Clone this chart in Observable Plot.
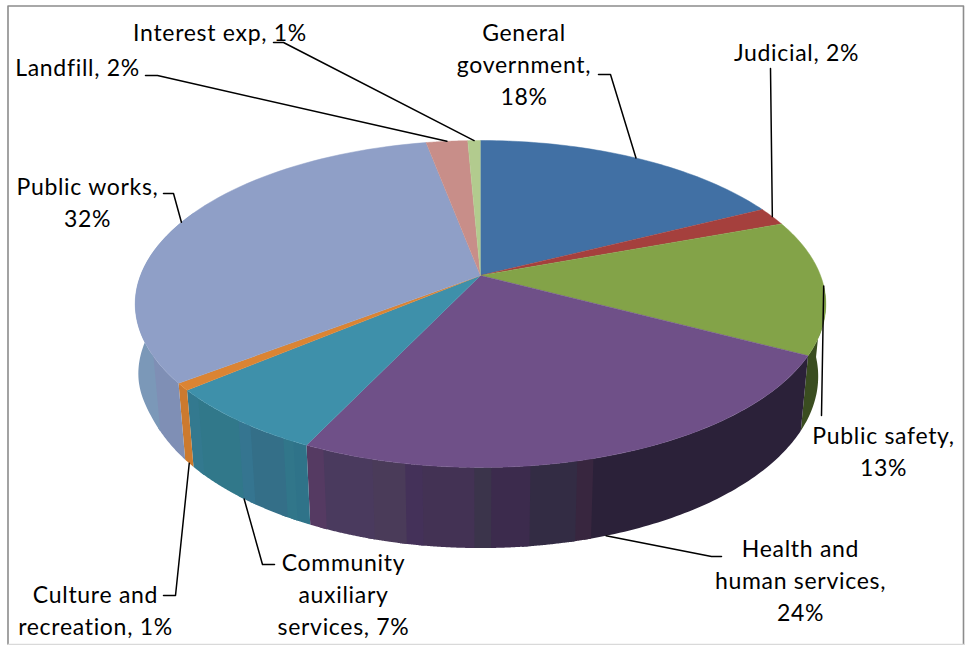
<!DOCTYPE html>
<html>
<head>
<meta charset="utf-8">
<style>html,body{margin:0;padding:0;background:#fff}svg{display:block}</style>
<script src="https://cdn.jsdelivr.net/npm/d3@7"></script>
<script src="https://cdn.jsdelivr.net/npm/@observablehq/plot@0.6"></script>
</head>
<body>
<div id="chart"></div>
<script>
const categories = ["General government","Judicial","Public safety","Health and human services","Community auxiliary services","Culture and recreation","Public works","Landfill","Interest exp"];
const shares = [17.6,1.8,13.3,24.4,6.8,0.7,32.4,2.3,0.7];
const topColors = ["#4170a4","#a5403d","#83a348","#6f5088","#3e90aa","#db8433","#8f9fc7","#c88e89","#b2cb8e"];

// wall shading, per slice: the picture x where a band ends (null: end of slice), and its colour
const wallShade = {
  "Public safety": [[null,"#3a4d20"]],
  "Health and human services": [[593,"#2b2139"],[577,"#38263f"],[530,"#332c44"],[491,"#3c2b4d"],[474,"#3b344b"],[422,"#433254"],[405,"#443159"],[372,"#4a3b59"],[323,"#4a3a5e"],[null,"#553a62"]],
  "Community auxiliary services": [[293,"#2f7389"],[283,"#31768a"],[250,"#346f88"],[238,"#357590"],[198,"#31788a"],[null,"#33798f"]],
  "Culture and recreation": [[null,"#cc7a2e"]],
  "Public works": [[153,"#7f8fb5"],[null,"#7b98b8"]]
};

const labelLines = [
  ["Interest exp, 1%"],["Landfill, 2%"],["Public works,","32%"],["General","government,","18%"],["Judicial, 2%"],
  ["Public safety,","13%"],["Health and","human services,","24%"],["Community","auxiliary","services, 7%"],["Culture and","recreation, 1%"]
];

// layout
const labelOf = ["Interest exp","Landfill","Public works","General government","Judicial","Public safety","Health and human services","Community auxiliary services","Culture and recreation"];
const labelCx = [219.5,77,87,523.5,796,883,800,343,95];
const labelCy = [33,68,187,33,53,436,549,563,595];
const lineGap = 32.2;
const legs = {
  "Interest exp":[[283,42],[273,42]],
  "Landfill":[[157,75],[145,75]],
  "Public works":[[173,193],[163,193]],
  "General government":[[610,74],[598,74]],
  "Judicial":[[770,68]],
  "Public safety":[[821,415]],
  "Health and human services":[[711,556],[721,556]],
  "Community auxiliary services":[[262,564],[274,564]],
  "Culture and recreation":[[175,595],[163,595]]
};
const onWall = new Set(["Health and human services","Community auxiliary services","Culture and recreation"]);

// perspective disc
const k = 0.1743, cx = 480, cyTop = 275, ax = 340, ay = 158.5, cyBot = 346, sy = 1.05;
// the lower rim is a touch wider toward the left of the picture
const sxAt = pct => 0.978 + 0.014 * d3.easeCubicInOut(Math.max(0, Math.min(1, (pct - 65) / 10)));
const rim = (pct, wall) => {
  const t = pct / 100 * 2 * Math.PI, u = Math.sin(t), v = Math.cos(t), w = 1 + k * v;
  return wall ? [cx + sxAt(pct) * ax * u / w, cyBot - sy * ay * v / w] : [cx + ax * u / w, cyTop - ay * v / w];
};
const arc = (a, b, wall) => d3.range(0, 61).map(i => rim(a + (b - a) * i / 60, wall));
const pctTable = d3.range(26, 76, 0.02);
const pctAtX = x => pctTable.find(p => rim(p, false)[0] <= x);

const cum = d3.cumsum(shares);
const walls = [], tops = [];
const push = (list, id, color, pts) => pts.forEach(p => list.push({id, color, x: p[0], y: p[1]}));

// walls: each band laps slightly under the next one
categories.forEach((c, i) => {
  const bands = wallShade[c];
  if (!bands) return;
  let a = c === "Public safety" ? 26 : cum[i-1];
  const sliceEnd = c === "Public works" ? 82 : cum[i];
  bands.forEach(([endX, color], j) => {
    const b = endX === null ? sliceEnd : pctAtX(endX);
    const lap = endX === null ? b : b + 0.3;
    push(walls, c + j, color, [...arc(a, lap, false), ...arc(a, lap, true).reverse()]);
    a = b;
  });
});
// top faces
categories.forEach((c, i) => {
  const a = i ? cum[i-1] : 0, b = cum[i];
  push(tops, "t"+i, topColors[i], [[cx, cyTop], ...arc(a, b, false)]);
});

// leaders
const leaders = [];
labelOf.forEach(n => {
  const i = categories.indexOf(n), mid = (i ? cum[i-1] : 0) + shares[i] / 2;
  [rim(mid, onWall.has(n)), ...legs[n]].forEach(p => leaders.push({n, x: p[0], y: p[1]}));
});

// label lines
const texts = [];
labelLines.forEach((ls, i) => ls.forEach((t, j) => texts.push({t, x: labelCx[i], y: labelCy[i] + j * lineGap})));

const chart = Plot.plot({
  width: 968, height: 645, margin: 0,
  x: {domain: [0, 968], range: [0, 968], axis: null},
  y: {domain: [0, 645], range: [0, 645], axis: null},
  color: {type: "identity"},
  style: {background: "#fff", letterSpacing: "0.7px"},
  marks: [
    Plot.line([{x:7.5,y:644},{x:7.5,y:5.5},{x:963,y:5.5},{x:963,y:644}], {x:"x", y:"y", stroke:"#8c8c8c", strokeWidth:1.6, curve:"linear"}),
    Plot.line([{x:7.5,y:644},{x:963,y:644}], {x:"x", y:"y", stroke:"#d9d9d9", strokeWidth:1.6}),
    Plot.line(walls, {x:"x", y:"y", z:"id", fill:"color", stroke:"none", curve:"linear"}),
    Plot.line(tops, {x:"x", y:"y", z:"id", fill:"color", stroke:"color", strokeWidth:0.5, curve:"linear"}),
    Plot.line(leaders, {x:"x", y:"y", z:"n", stroke:"#000", strokeWidth:1.5, curve:"linear"}),
    Plot.text(texts, {x:"x", y:"y", text:"t", fill:"#000", fontSize:23, fontFamily:"Lato", textAnchor:"middle", lineAnchor:"middle"})
  ]
});
document.getElementById("chart").appendChild(chart);
</script>
</body>
</html>
